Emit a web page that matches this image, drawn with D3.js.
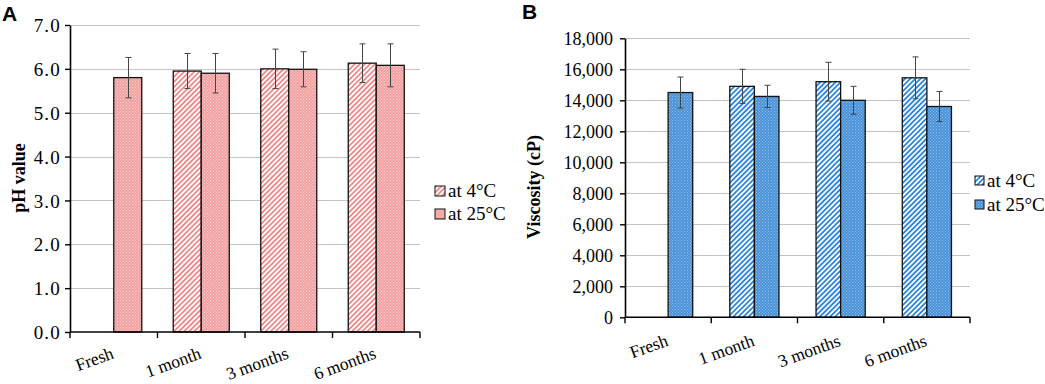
<!DOCTYPE html>
<html>
<head>
<meta charset="utf-8">
<script src="https://cdn.jsdelivr.net/npm/d3@7"></script>
<style>
  html, body { margin: 0; padding: 0; background: #fff; }
  svg { display: block; }
  text.serif { font-family: "Liberation Serif", "Times New Roman", serif !important; fill: #000; }
</style>
</head>
<body>
<svg id="chart" width="1045" height="384"></svg>
<script>
const categories = ["Fresh", "1 month", "3 months", "6 months"];
const series = ["at 4°C", "at 25°C"];

const phAt4 = [null, 5.95, 6.00, 6.13];
const phAt25 = [5.80, 5.90, 5.99, 6.08];
const phErrAt4 = [null, 0.40, 0.45, 0.44];
const phErrAt25 = [0.46, 0.45, 0.40, 0.49];
const phTicks = [0, 1, 2, 3, 4, 5, 6, 7];

const viscAt4 = [null, 14900, 15200, 15450];
const viscAt25 = [14500, 14250, 14000, 13600];
const viscErrAt4 = [null, 1100, 1250, 1350];
const viscErrAt25 = [1000, 720, 900, 970];
const viscTicks = [0, 2000, 4000, 6000, 8000, 10000, 12000, 14000, 16000, 18000];

const SERIF = "'Liberation Serif', 'Times New Roman', serif";
const svg = d3.select("#chart");
const defs = svg.append("defs");

function makePatterns(id, stripeColor, baseColor, dotColor) {
  const st = defs.append("pattern")
    .attr("id", id + "-stripe")
    .attr("patternUnits", "userSpaceOnUse")
    .attr("width", 3.6).attr("height", 3.6)
    .attr("patternTransform", "rotate(45)");
  st.append("rect").attr("width", 3.6).attr("height", 3.6).attr("fill", "#fff");
  st.append("rect").attr("width", 1.8).attr("height", 3.6).attr("fill", stripeColor);

  const dt = defs.append("pattern")
    .attr("id", id + "-dot")
    .attr("patternUnits", "userSpaceOnUse")
    .attr("width", 3).attr("height", 3);
  dt.append("rect").attr("width", 3).attr("height", 3).attr("fill", baseColor);
  dt.append("rect").attr("x", 0).attr("y", 0).attr("width", 1).attr("height", 1).attr("fill", dotColor);
  dt.append("rect").attr("x", 1.5).attr("y", 1.5).attr("width", 1).attr("height", 1).attr("fill", dotColor);
}
makePatterns("pink", "#f08a8a", "#f3a2a2", "#f9cfcf");
makePatterns("blue", "#2a86de", "#4a92d8", "#8fc0ec");

function serifText(sel, size, weight) {
  sel.attr("class", "serif")
    .style("font-family", SERIF)
    .style("font-size", size + "px")
    .style("font-weight", weight || "normal")
    .style("fill", "#000");
  return sel;
}

function drawPanel(opt) {
  const g = svg.append("g");
  const x = d3.scaleBand().domain(categories).range([opt.x0, opt.x1]).padding(0);
  const y = d3.scaleLinear().domain([0, opt.ymax]).range([opt.yBottom, opt.yTop]);
  const xs = d3.scaleBand().domain(series)
    .range([x.bandwidth() * opt.inner, x.bandwidth() * (1 - opt.inner)]).padding(0);

  // gridlines
  g.append("g").selectAll("line").data(opt.ticks.filter(t => t > 0)).join("line")
    .attr("x1", opt.x0).attr("x2", opt.x1)
    .attr("y1", d => Math.round(y(d)) + 0.5).attr("y2", d => Math.round(y(d)) + 0.5)
    .attr("stroke", "#c4c4c4").attr("stroke-width", 1);

  const rows = [];
  categories.forEach((c, i) => {
    rows.push({ c, s: series[0], v: opt.v4[i], e: opt.e4[i], fill: `url(#${opt.pid}-stripe)` });
    rows.push({ c, s: series[1], v: opt.v25[i], e: opt.e25[i], fill: `url(#${opt.pid}-dot)` });
  });
  const valid = rows.filter(r => r.v != null);

  g.append("g").selectAll("rect").data(valid).join("rect")
    .attr("x", d => x(d.c) + xs(d.s))
    .attr("width", xs.bandwidth())
    .attr("y", d => y(d.v))
    .attr("height", d => y(0) - y(d.v))
    .attr("fill", d => d.fill)
    .attr("stroke", "#111").attr("stroke-width", 1.3);

  // error bars
  const eb = g.append("g").attr("stroke", "#444").attr("stroke-width", 1);
  valid.forEach(d => {
    const cx = Math.round(x(d.c) + xs(d.s) + xs.bandwidth() / 2) + 0.5;
    eb.append("line").attr("x1", cx).attr("x2", cx).attr("y1", y(d.v + d.e)).attr("y2", y(d.v - d.e));
    eb.append("line").attr("x1", cx - 3).attr("x2", cx + 3).attr("y1", y(d.v + d.e)).attr("y2", y(d.v + d.e));
    eb.append("line").attr("x1", cx - 3).attr("x2", cx + 3).attr("y1", y(d.v - d.e)).attr("y2", y(d.v - d.e));
  });

  // y axis
  const ya = g.append("g").attr("transform", `translate(${opt.x0},0)`)
    .call(d3.axisLeft(y).tickValues(opt.ticks).tickFormat(opt.fmt).tickSize(5).tickSizeOuter(0));
  ya.select(".domain").attr("stroke", "#000").attr("stroke-width", 1.6);
  ya.selectAll(".tick line").attr("stroke", "#000").attr("stroke-width", 1.4);
  serifText(ya.selectAll(".tick text"), opt.tickFont)
    .style("letter-spacing", opt.tickSpacing + "px")
    .attr("x", opt.tickPad).attr("dy", "0.35em");

  // x axis
  const xa = g.append("g").attr("transform", `translate(0,${opt.yBottom})`);
  xa.append("line").attr("x1", opt.x0).attr("x2", opt.x1).attr("y1", 0).attr("y2", 0)
    .attr("stroke", "#000").attr("stroke-width", 1.6);
  const bounds = categories.map(c => x(c)).concat([opt.x1]);
  xa.selectAll("line.tk").data(bounds).join("line").attr("class", "tk")
    .attr("x1", d => d).attr("x2", d => d).attr("y1", 0).attr("y2", 6)
    .attr("stroke", "#000").attr("stroke-width", 1.4);
  serifText(xa.selectAll("text").data(categories).join("text"), opt.catFont)
    .attr("transform", d => `translate(${x(d) + x.bandwidth() / 2 + 1},${opt.catDy}) rotate(-20)`)
    .attr("text-anchor", "end")
    .text(d => d);

  // y title
  serifText(g.append("text"), opt.titleFont, "bold")
    .attr("transform", `translate(${opt.titleX},${opt.titleY}) rotate(-90)`)
    .attr("text-anchor", "middle")
    .text(opt.title);

  // panel letter
  g.append("text").attr("x", opt.letterX).attr("y", opt.letterY)
    .style("font-family", "'Liberation Sans', Arial, sans-serif")
    .style("font-weight", "bold").style("font-size", "21px").style("fill", "#000").text(opt.letter);

  // legend
  const lg = g.append("g");
  series.forEach((s, i) => {
    const yy = opt.legY + i * opt.legGap;
    lg.append("rect").attr("x", opt.legX).attr("y", yy - 11).attr("width", opt.sw).attr("height", opt.sw)
      .attr("fill", i === 0 ? `url(#${opt.pid}-stripe)` : `url(#${opt.pid}-dot)`)
      .attr("stroke", "#111").attr("stroke-width", 1);
    serifText(lg.append("text"), opt.legFont)
      .attr("x", opt.legX + opt.sw + 3).attr("y", yy).text(s);
  });
}

drawPanel({
  pid: "pink", x0: 70, x1: 420, yTop: 25, yBottom: 332, ymax: 7,
  inner: 0.18, ticks: phTicks, fmt: d3.format(".1f"), tickPad: -9, tickSpacing: 1.2,
  v4: phAt4, v25: phAt25, e4: phErrAt4, e25: phErrAt25,
  tickFont: 19, catFont: 17.5, catDy: 26, title: "pH value", titleX: 25, titleY: 178, titleFont: 18,
  letter: "A", letterX: 2, letterY: 21,
  legX: 435, legY: 197, legGap: 23, sw: 10, legFont: 19
});

drawPanel({
  pid: "blue", x0: 625, x1: 970, yTop: 38.3, yBottom: 317.3, ymax: 18000,
  inner: 0.215, ticks: viscTicks, fmt: d3.format(","), tickPad: -12, tickSpacing: 0,
  v4: viscAt4, v25: viscAt25, e4: viscErrAt4, e25: viscErrAt25,
  tickFont: 18, catFont: 17.5, catDy: 28, title: "Viscosity (cP)", titleX: 540, titleY: 187, titleFont: 18,
  letter: "B", letterX: 522, letterY: 19,
  legX: 975, legY: 187, legGap: 24, sw: 9, legFont: 19
});
</script>
</body>
</html>
